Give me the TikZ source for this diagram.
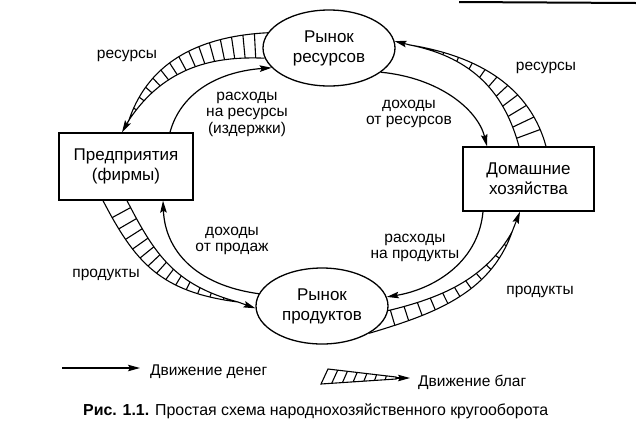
\documentclass[tikz,border=0pt]{standalone}
\usepackage{fontspec}
\setmainfont{Liberation Sans}
\usetikzlibrary{arrows.meta,calc,shapes.geometric,intersections}
\newcommand\nhatch{10}
% #1 outer start, #2 outer c1, #3 outer c2, #4 inner start, #5 inner c1, #6 inner c2, #7 join, #8 tip
\newcommand\hatchband[8]{%
  \draw[goods] (#1) .. controls (#2) and (#3) .. (#7) .. controls (#6) and (#5) .. (#4);
  \path[name path=outerpath] (#1) .. controls (#2) and (#3) .. (#7);
  \path[name path=innerpath] (#4) .. controls (#5) and (#6) .. (#7);
  \foreach \i in {1,...,\nhatch}{%
    \pgfmathsetmacro\hbt{\i/(\nhatch+1)}%
    \pgfmathsetmacro\hbu{\hbt+0.01}%
    \path ($(#1)!0.5!(#4)$) .. controls ($(#2)!0.5!(#5)$) and ($(#3)!0.5!(#6)$) .. (#7) coordinate[pos=\hbt] (hu) coordinate[pos=\hbu] (hv);
    \path[name path=normline] ($(hu)!20pt!90:(hv)$) -- ($(hu)!20pt!-90:(hv)$);
    \path[name intersections={of=normline and outerpath,name=ho,total=\hbna}] \pgfextra{\xdef\hbnA{\hbna}};
    \path[name intersections={of=normline and innerpath,name=hi,total=\hbnb}] \pgfextra{\xdef\hbnB{\hbnb}};
    \ifnum\hbnA>0 \ifnum\hbnB>0 \draw[goods] (ho-1) -- (hi-1); \fi\fi
  }%
  \draw[goodstip] (#7) -- (#8);
}
\begin{document}
\begin{tikzpicture}[x=1pt,y=-1pt,
  box/.style={draw,line width=1.3pt,inner sep=0pt,align=center,font=\fontsize{17}{20}\selectfont},
  mkt/.style={draw,ellipse,line width=1.3pt,inner sep=0pt,minimum width=132pt,minimum height=76pt,align=center,font=\fontsize{17}{20}\selectfont},
  money/.style={line width=1.2pt,-{Stealth[length=12pt,width=6.5pt,inset=2pt]}},
  goods/.style={line width=1.1pt},
  goodstip/.style={line width=1.1pt,-{Stealth[length=12pt,width=6.5pt,inset=2pt]}},
  lbl/.style={align=center,font=\fontsize{15.5}{16.5}\selectfont,inner sep=0pt},
]
\useasboundingbox (0,0) rectangle (636,432);

% scan line at top
\coordinate (sl1) at (459,2);
\coordinate (sl2) at (636,3);
\draw[line width=2pt] (sl1) -- (sl2);

% nodes
\node[mkt] (resmkt) at (329,48) {Рынок\\ресурсов};
\node[mkt] (prodmkt) at (322,306) {Рынок\\продуктов};
\node[box,minimum width=134pt,minimum height=67pt] (firms) at (126,166.5) {Предприятия\\(фирмы)};
\node[box,minimum width=131pt,minimum height=64pt] (house) at (528.5,179) {Домашние\\хозяйства};

% money flows
\draw[money] ([xshift=44pt]firms.north) .. controls (180,95) and (215,72) .. (resmkt.199);
\draw[money] (resmkt.335) .. controls (440,78) and (478,110) .. ([xshift=-41.5pt]house.north);
\draw[money] ([xshift=-45.5pt]house.south) .. controls (478,265) and (430,290) .. (prodmkt.8);
\draw[money] (prodmkt.169) .. controls (195,285) and (165,250) .. ([xshift=37pt]firms.south);

% goods flows
\renewcommand\nhatch{14}
\hatchband{resmkt.166}{205,36}{150,58}{resmkt.189}{215,56}{165,66}{129,120}{[xshift=-4pt]firms.north}
\renewcommand\nhatch{11}
\hatchband{[xshift=17.5pt]house.north}{532,95}{490,58}{[xshift=-9.5pt]house.north}{505,95}{475,58}{410,45}{resmkt.6}
\renewcommand\nhatch{13}
\hatchband{[xshift=-23pt]firms.south}{135,262}{160,292}{[xshift=1pt]firms.south}{155,255}{175,285}{238,302}{prodmkt.182}
\renewcommand\nhatch{11}
\hatchband{prodmkt.330}{430,315}{490,295}{prodmkt.356}{440,298}{485,280}{512,232}{[xshift=-8.5pt]house.south}

% labels
\node[lbl] (l1) at (127,56) {ресурсы};
\node[lbl] (l2) at (247,114) {расходы\\на ресурсы\\(издержки)};
\node[lbl] (l3) at (546,68) {ресурсы};
\node[lbl] (l4) at (409,114) {доходы\\от ресурсов};
\node[lbl] (l5) at (232,241) {доходы\\от продаж};
\node[lbl] (l6) at (106,275) {продукты};
\node[lbl] (l7) at (415,248) {расходы\\на продукты};
\node[lbl] (l8) at (540,292) {продукты};

% legend
\coordinate (lm1) at (62,368);
\coordinate (lm2) at (140,368);
\draw[money] (lm1) -- (lm2);
\node[lbl,anchor=base west] (lt1) at (150,375) {Движение денег};

\coordinate (lgu1) at (328,369);
\coordinate (lgu2) at (396,377);
\coordinate (lgl1) at (321,384);
\coordinate (lgl2) at (396,379);
\coordinate (lgj) at (396,378);
\coordinate (lgt) at (410,378);
\draw[goods] (lgl1) -- (lgu1) -- (lgu2) -- (lgl2) -- cycle;
\foreach \i in {1,...,6}{%
  \pgfmathsetmacro\hbt{\i/7}%
  \path (lgu1) -- (lgu2) coordinate[pos=\hbt] (hu);
  \path (lgl1) -- (lgl2) coordinate[pos=\hbt] (hl);
  \draw[goods] (hu) -- (hl);
}
\draw[goodstip] (lgj) -- (lgt);
\node[lbl,anchor=base west] (lt2) at (418,386) {Движение благ};

% caption
\node[anchor=base west,inner sep=0pt,font=\fontsize{15.9}{18}\selectfont] (cap) at (83,415) {\textbf{Рис. 1.1.} Простая схема народнохозяйственного кругооборота};
\end{tikzpicture}
\end{document}
